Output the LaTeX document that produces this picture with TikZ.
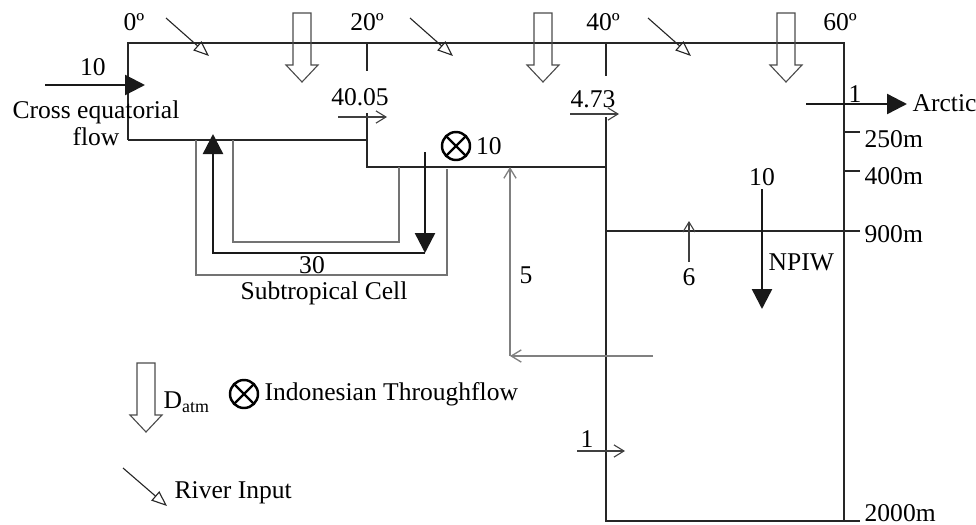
\documentclass[tikz,border=0pt]{standalone}
\usepackage{fontspec}
\setmainfont{Liberation Serif}
\usepackage{tikz}
\usetikzlibrary{arrows.meta}
\usetikzlibrary{positioning}
\newcommand{\datm}[2]{%
  \draw[black!70, line width=0.5pt] ({#1-9},#2) -- ({#1-9},{#2+52}) -- ({#1-16},{#2+52})
    -- (#1,{#2+69}) -- ({#1+16},{#2+52}) -- ({#1+9},{#2+52}) -- ({#1+9},#2) -- cycle;}

\tikzset{
  wall/.style={draw=black!85, line width=0.55pt},
  cellwall/.style={draw=black!55, line width=0.55pt},
  flux/.style={-{Straight Barb[length=4.5pt,width=5.5pt]}, black!75, line width=0.5pt},
  backflux/.style={-{Straight Barb[length=4.5pt,width=5.5pt]}, black!50, line width=0.6pt},
  bigflux/.style={-{Triangle[length=9pt,width=9pt]}, black!90, line width=1.1pt},
  river/.style={-{Triangle[open,length=7pt,width=5.5pt]}, black!85, line width=0.5pt},
  lbl/.style={inner sep=1pt},
  itf/.style={draw, circle, line width=1.1pt, minimum size=12.6pt, inner sep=0pt,
    path picture={\draw[line width=1.1pt] (path picture bounding box.north west) -- (path picture bounding box.south east)
      (path picture bounding box.south west) -- (path picture bounding box.north east);}}
}

\begin{document}
\begin{tikzpicture}[x=0.45pt, y=-0.45pt, font=\fontsize{11.5}{12}\selectfont]
  \useasboundingbox (0,0) rectangle (976,524);

  % ocean boxes
  \draw[wall] (128,140) -- (128,43) -- (844,43) -- (844,521);
  \draw[wall] (128,140) -- (367,140);
  \draw[wall] (367,43) -- (367,71);
  \draw[wall] (367,113) -- (367,167) -- (606,167);
  \draw[wall] (606,43) -- (606,76);
  \draw[wall] (606,117) -- (606,521) -- (860,521);
  \draw[wall] (606,231) -- (860,231);
  \draw[wall] (844,132) -- (860,132);
  \draw[wall] (844,171) -- (860,171);

  % latitudes and depths
  \foreach \x/\l in {134/0, 367/20, 603/40, 840/60}
    \node[lbl] (lat\l) at (\x,22) {\l º};
  \node[lbl, anchor=west] (d250) at (862,139) {250m};
  \node[lbl, anchor=west] (d400) at (862,176) {400m};
  \node[lbl, anchor=west] (d900) at (862,234) {900m};
  \node[lbl, anchor=west] (d2000) at (862,513) {2000m};

  % atmosphere and rivers
  \foreach \x in {302,543,786} \datm{\x}{13};
  \foreach \x in {166,410,648} \draw[river] (\x,18) -- ({\x+43},56);

  % subtropical cell
  \draw[cellwall] (196,140) -- (196,275) -- (447,275) -- (447,169);
  \draw[cellwall] (233,140) -- (233,242) -- (399,242) -- (399,167);
  \draw[bigflux] (425,152) -- (425,253);
  \draw[bigflux] (425,253) -- (213,253) -- (213,134);
  \node[lbl] (stc) at (312,265) {30};
  \node[lbl] (stcname) at (324,293) {Subtropical Cell};

  % cross equatorial flow
  \draw[bigflux] (45,85) -- (145,85);
  \node[lbl] (cef) at (93,67) {10};
  \node[lbl, align=center] (cefname) at (96,123) {Cross equatorial\\flow};

  % fluxes between boxes
  \draw[flux] (338,117) -- (387,117);
  \node[lbl] (f1) at (360,97) {40.05};
  \draw[flux] (570,114) -- (619,114);
  \node[lbl] (f2) at (593,99) {4.73};
  \node[itf] (itf) at (456,146) {};
  \node[lbl, right=1pt of itf] (itfval) {10};

  % arctic and NPIW
  \draw[bigflux] (806,104) -- (907,104);
  \node[lbl] (arc) at (855,94) {1};
  \node[lbl, anchor=west] (arcname) at (910,103) {Arctic};
  \draw[bigflux] (762,189) -- (762,309);
  \node[lbl] (npiw) at (762,177) {10};
  \node[lbl, anchor=west] (npiwname) at (766,262) {NPIW};
  \draw[flux] (689,262) -- (689,221);
  \node[lbl] (up) at (689,277) {6};
  \draw[backflux] (653,356) -- (510,356);
  \draw[backflux] (510,356) -- (510,167);
  \node[lbl] (ret) at (526,275) {5};
  \draw[flux] (577,451) -- (625,451);
  \node[lbl] (deep) at (587,439) {1};

  % legend
  \datm{146}{363}
  \node[lbl, anchor=west] (datmname) at (161,402) {D\textsubscript{atm}};
  \node[itf] (itfkey) at (244,394) {};
  \node[lbl, anchor=west] (itfname) at (262,394) {Indonesian Throughflow};
  \draw[river] (123,468) -- (167,506);
  \node[lbl, anchor=west] (rivname) at (172,493) {River Input};
\end{tikzpicture}
\end{document}
